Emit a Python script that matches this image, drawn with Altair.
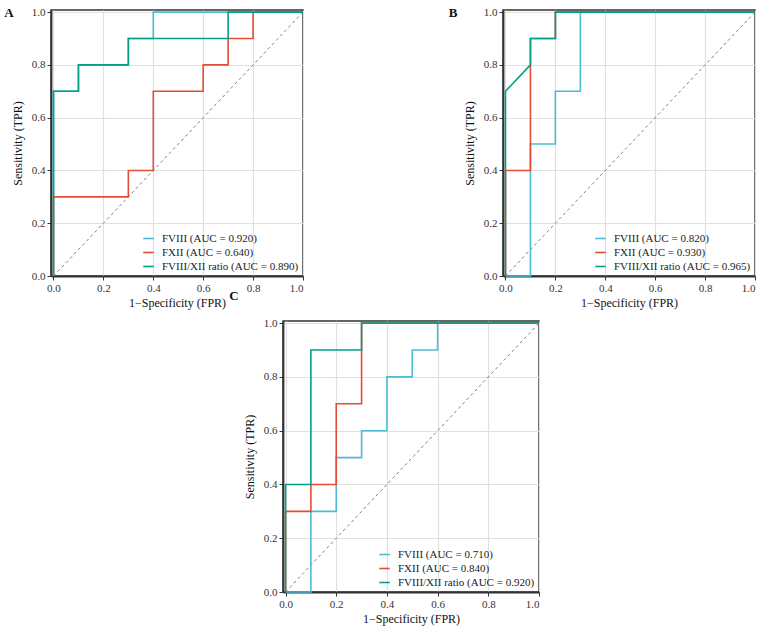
import altair as alt
import pandas as pd

# ROC curves (false positive rate / true positive rate) for three markers in three cohorts
SERIES = ["FVIII", "FXII", "FVIII/XII ratio"]
COLORS = ["#4DBBD5", "#E64B35", "#00A087"]

# Panel A
A_FVIII_FPR = [0.0, 0.0, 0.1, 0.1, 0.3, 0.3, 0.4, 0.4, 1.0]
A_FVIII_TPR = [0.0, 0.7, 0.7, 0.8, 0.8, 0.9, 0.9, 1.0, 1.0]
A_FXII_FPR = [0.0, 0.0, 0.3, 0.3, 0.4, 0.4, 0.6, 0.6, 0.7, 0.7, 0.8, 0.8, 1.0]
A_FXII_TPR = [0.0, 0.3, 0.3, 0.4, 0.4, 0.7, 0.7, 0.8, 0.8, 0.9, 0.9, 1.0, 1.0]
A_RATIO_FPR = [0.0, 0.0, 0.1, 0.1, 0.3, 0.3, 0.7, 0.7, 1.0]
A_RATIO_TPR = [0.0, 0.7, 0.7, 0.8, 0.8, 0.9, 0.9, 1.0, 1.0]
A_AUC = [0.920, 0.640, 0.890]

# Panel B
B_FVIII_FPR = [0.0, 0.1, 0.1, 0.2, 0.2, 0.3, 0.3, 1.0]
B_FVIII_TPR = [0.0, 0.0, 0.5, 0.5, 0.7, 0.7, 1.0, 1.0]
B_FXII_FPR = [0.0, 0.0, 0.1, 0.1, 0.2, 0.2, 1.0]
B_FXII_TPR = [0.0, 0.4, 0.4, 0.9, 0.9, 1.0, 1.0]
B_RATIO_FPR = [0.0, 0.0, 0.1, 0.1, 0.2, 0.2, 1.0]
B_RATIO_TPR = [0.0, 0.7, 0.8, 0.9, 0.9, 1.0, 1.0]
B_AUC = [0.820, 0.930, 0.965]

# Panel C
C_FVIII_FPR = [0.0, 0.1, 0.1, 0.2, 0.2, 0.3, 0.3, 0.4, 0.4, 0.5, 0.5, 0.6, 0.6, 1.0]
C_FVIII_TPR = [0.0, 0.0, 0.3, 0.3, 0.5, 0.5, 0.6, 0.6, 0.8, 0.8, 0.9, 0.9, 1.0, 1.0]
C_FXII_FPR = [0.0, 0.0, 0.1, 0.1, 0.2, 0.2, 0.3, 0.3, 1.0]
C_FXII_TPR = [0.0, 0.3, 0.3, 0.4, 0.4, 0.7, 0.7, 1.0, 1.0]
C_RATIO_FPR = [0.0, 0.0, 0.1, 0.1, 0.3, 0.3, 1.0]
C_RATIO_TPR = [0.0, 0.4, 0.4, 0.9, 0.9, 1.0, 1.0]
C_AUC = [0.710, 0.840, 0.920]

DIAGONAL = [0.0, 1.0]
TICKS = [round(i / 10, 1) for i in range(11)]

FONT = "Liberation Serif"
MAJOR = "round(datum.value * 10) % 2 == 0"


def make_axis(title, title_padding):
    return alt.Axis(
        title=title,
        values=TICKS,
        labelExpr=f"{MAJOR} ? format(datum.value, '.1f') : ''",
        grid=True,
        gridColor={"condition": {"test": MAJOR, "value": "#e0e0e0"}, "value": "#efefef"},
        gridWidth={"condition": {"test": MAJOR, "value": 1.2}, "value": 0.8},
        tickOpacity={"condition": {"test": MAJOR, "value": 1}, "value": 0},
        tickSize=4,
        tickWidth=1,
        tickColor="#333333",
        domainColor="#333333",
        domainWidth=1.8,
        labelFont=FONT,
        labelFontSize=11,
        labelColor="#333333",
        labelPadding=2,
        titleFont=FONT,
        titleFontSize=12,
        titleFontWeight="normal",
        titleColor="#111111",
        titlePadding=title_padding,
    )


def tag_layer(letter, dx, dy):
    return alt.Chart(pd.DataFrame({"tag": [letter]})).mark_text(
        font=FONT, fontSize=13, fontWeight="bold", color="#111111", baseline="middle", align="center"
    ).encode(text="tag:N", x=alt.value(dx), y=alt.value(dy))


def panel(curves, aucs, prefixes, width, height, tags):
    rows = []
    labels = []
    for k, (name, (fpr, tpr), auc) in enumerate(zip(SERIES, curves, aucs)):
        label = f"{prefixes[k]}{name} (AUC = {auc:.3f})"
        labels.append(label)
        for i, (x, y) in enumerate(zip(fpr, tpr)):
            rows.append({"fpr": x, "tpr": y, "series": label, "step": i})
    curves_df = pd.DataFrame(rows)

    xscale = alt.Scale(domain=[-0.01, 1.0], nice=False, zero=False)
    yscale = alt.Scale(domain=[0.0, 1.008], nice=False, zero=False)

    diag = alt.Chart(pd.DataFrame({"fpr": DIAGONAL, "tpr": DIAGONAL})).mark_line(
        color="#7f7f7f", strokeDash=[3, 3], strokeWidth=1
    ).encode(
        x=alt.X("fpr:Q", scale=xscale, axis=make_axis("1\u2212Specificity (FPR)", 4)),
        y=alt.Y("tpr:Q", scale=yscale, axis=make_axis("Sensitivity (TPR)", 7)),
    )

    lines = alt.Chart(curves_df).mark_line(strokeWidth=1.6).encode(
        x=alt.X("fpr:Q", scale=xscale),
        y=alt.Y("tpr:Q", scale=yscale),
        color=alt.Color(
            "series:N",
            scale=alt.Scale(domain=labels, range=COLORS),
            sort=labels,
            legend=alt.Legend(
                title=None,
                orient="bottom-right",
                offset=4,
                padding=0,
                symbolType="stroke",
                symbolSize=110,
                symbolStrokeWidth=1.6,
                labelFont=FONT,
                labelFontSize=11,
                labelColor="#222222",
                labelOffset=7,
                labelLimit=300,
                rowPadding=2,
            ),
        ),
        order="step:Q",
    )

    layers = [diag, lines] + [tag_layer(*t) for t in tags]
    return alt.layer(*layers).properties(
        width=width,
        height=height,
        view=alt.ViewBackground(stroke="#333333", strokeWidth=1.5, fill="white"),
    )


# the "C" tag sits in the gap below panel A, so it is drawn with that panel
panel_a = panel(
    [(A_FVIII_FPR, A_FVIII_TPR), (A_FXII_FPR, A_FXII_TPR), (A_RATIO_FPR, A_RATIO_TPR)],
    A_AUC, ["", "", ""], 252, 266, [("A", -42, 3), ("C", 183, 286)],
)
panel_b = panel(
    [(B_FVIII_FPR, B_FVIII_TPR), (B_FXII_FPR, B_FXII_TPR), (B_RATIO_FPR, B_RATIO_TPR)],
    B_AUC, ["\u00a0", "", ""], 252, 266, [("B", -50, 3)],
)
panel_c = panel(
    [(C_FVIII_FPR, C_FVIII_TPR), (C_FXII_FPR, C_FXII_TPR), (C_RATIO_FPR, C_RATIO_TPR)],
    C_AUC, ["", "", ""], 256, 271, [],
)

# empty slot that pushes the third panel towards the middle
spacer = alt.Chart(pd.DataFrame({"v": [0]})).mark_point(opacity=0).properties(
    width=232, height=10, view=alt.ViewBackground(stroke=None)
)

top_row = alt.hconcat(panel_a, panel_b, spacing=200, bounds="flush").resolve_scale(color="independent")
bottom_row = alt.hconcat(spacer, panel_c, spacing=0, bounds="flush").resolve_scale(color="independent")

chart = (
    alt.vconcat(top_row, bottom_row, spacing=7, bounds="full")
    .resolve_scale(color="independent")
    .properties(padding={"left": 3, "top": 5, "right": 5, "bottom": 5}, background="white")
    .configure_view(stroke=None)
)

chart.save("out.html", embed_options={"renderer": "svg", "actions": False})
